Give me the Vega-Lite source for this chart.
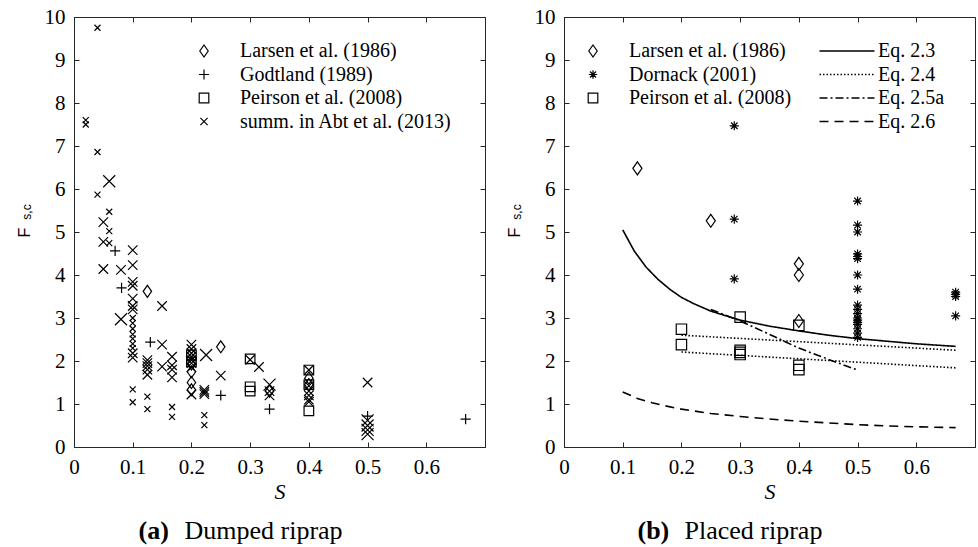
{
  "$schema": "https://vega.github.io/schema/vega-lite/v6.json",
  "background": "white",
  "padding": {"left": 15, "top": 5, "right": 2, "bottom": 2},
  "spacing": 19,
  "config": {
    "font": "Liberation Serif",
    "view": {"stroke": "#262626", "strokeWidth": 1},
    "axis": {
      "grid": false,
      "domainColor": "#262626",
      "tickColor": "#262626",
      "tickSize": -5,
      "labelColor": "#000000",
      "labelFont": "Liberation Serif",
      "labelFontSize": 21,
      "labelFlush": false,
      "labelOverlap": false,
      "titleColor": "#000000",
      "titleFontWeight": "normal"
    },
    "legend": {
      "labelFont": "Liberation Serif",
      "labelFontSize": 20,
      "labelColor": "#000000",
      "labelLimit": 400,
      "symbolStrokeColor": "#000000",
      "symbolStrokeWidth": 1.2,
      "padding": 0,
      "rowPadding": 3.5,
      "labelOffset": 26,
      "symbolSize": 144
    },
    "title": {"font": "Liberation Serif", "color": "#000000", "subtitleColor": "#000000"}
  },
  "datasets": {
    "dumped": [
      {"S": 0.125, "F": 3.62, "src": "Larsen et al. (1986)"},
      {"S": 0.25, "F": 2.33, "src": "Larsen et al. (1986)"},
      {"S": 0.2, "F": 1.93, "src": "Larsen et al. (1986)"},
      {"S": 0.2, "F": 1.75, "src": "Larsen et al. (1986)"},
      {"S": 0.2, "F": 1.5, "src": "Larsen et al. (1986)"},
      {"S": 0.2, "F": 1.33, "src": "Larsen et al. (1986)"},
      {"S": 0.333, "F": 1.3, "src": "Larsen et al. (1986)"},
      {"S": 0.4, "F": 1.6, "src": "Larsen et al. (1986)"},
      {"S": 0.4, "F": 1.45, "src": "Larsen et al. (1986)"},
      {"S": 0.07, "F": 4.56, "src": "Godtland (1989)"},
      {"S": 0.081, "F": 3.7, "src": "Godtland (1989)"},
      {"S": 0.13, "F": 2.44, "src": "Godtland (1989)"},
      {"S": 0.25, "F": 1.2, "src": "Godtland (1989)"},
      {"S": 0.333, "F": 0.88, "src": "Godtland (1989)"},
      {"S": 0.5, "F": 0.72, "src": "Godtland (1989)"},
      {"S": 0.667, "F": 0.65, "src": "Godtland (1989)"},
      {"S": 0.2, "F": 2.14, "src": "Peirson et al. (2008)"},
      {"S": 0.2, "F": 1.98, "src": "Peirson et al. (2008)"},
      {"S": 0.3, "F": 2.05, "src": "Peirson et al. (2008)"},
      {"S": 0.3, "F": 1.4, "src": "Peirson et al. (2008)"},
      {"S": 0.3, "F": 1.3, "src": "Peirson et al. (2008)"},
      {"S": 0.4, "F": 1.79, "src": "Peirson et al. (2008)"},
      {"S": 0.4, "F": 1.45, "src": "Peirson et al. (2008)"},
      {"S": 0.4, "F": 0.84, "src": "Peirson et al. (2008)"},
      {"S": 0.04, "F": 9.75, "src": "summ. in Abt et al. (2013)", "scale_class": "small"},
      {"S": 0.02, "F": 7.6, "src": "summ. in Abt et al. (2013)", "scale_class": "small"},
      {"S": 0.02, "F": 7.5, "src": "summ. in Abt et al. (2013)", "scale_class": "small"},
      {"S": 0.04, "F": 6.86, "src": "summ. in Abt et al. (2013)", "scale_class": "small"},
      {"S": 0.06, "F": 6.18, "src": "summ. in Abt et al. (2013)", "scale_class": "large"},
      {"S": 0.04, "F": 5.87, "src": "summ. in Abt et al. (2013)", "scale_class": "small"},
      {"S": 0.05, "F": 5.23, "src": "summ. in Abt et al. (2013)", "scale_class": "medium"},
      {"S": 0.06, "F": 5.47, "src": "summ. in Abt et al. (2013)", "scale_class": "small"},
      {"S": 0.06, "F": 5.02, "src": "summ. in Abt et al. (2013)", "scale_class": "small"},
      {"S": 0.05, "F": 4.77, "src": "summ. in Abt et al. (2013)", "scale_class": "medium"},
      {"S": 0.06, "F": 4.74, "src": "summ. in Abt et al. (2013)", "scale_class": "small"},
      {"S": 0.05, "F": 4.14, "src": "summ. in Abt et al. (2013)", "scale_class": "medium"},
      {"S": 0.08, "F": 4.12, "src": "summ. in Abt et al. (2013)", "scale_class": "medium"},
      {"S": 0.08, "F": 2.97, "src": "summ. in Abt et al. (2013)", "scale_class": "large"},
      {"S": 0.1, "F": 4.58, "src": "summ. in Abt et al. (2013)", "scale_class": "medium"},
      {"S": 0.1, "F": 4.23, "src": "summ. in Abt et al. (2013)", "scale_class": "medium"},
      {"S": 0.1, "F": 3.84, "src": "summ. in Abt et al. (2013)", "scale_class": "medium"},
      {"S": 0.1, "F": 3.75, "src": "summ. in Abt et al. (2013)", "scale_class": "medium"},
      {"S": 0.1, "F": 3.45, "src": "summ. in Abt et al. (2013)", "scale_class": "medium"},
      {"S": 0.1, "F": 3.28, "src": "summ. in Abt et al. (2013)", "scale_class": "medium"},
      {"S": 0.1, "F": 3.2, "src": "summ. in Abt et al. (2013)", "scale_class": "medium"},
      {"S": 0.1, "F": 3.0, "src": "summ. in Abt et al. (2013)", "scale_class": "small"},
      {"S": 0.1, "F": 2.88, "src": "summ. in Abt et al. (2013)", "scale_class": "small"},
      {"S": 0.1, "F": 2.75, "src": "summ. in Abt et al. (2013)", "scale_class": "small"},
      {"S": 0.1, "F": 2.62, "src": "summ. in Abt et al. (2013)", "scale_class": "small"},
      {"S": 0.1, "F": 2.52, "src": "summ. in Abt et al. (2013)", "scale_class": "small"},
      {"S": 0.1, "F": 2.4, "src": "summ. in Abt et al. (2013)", "scale_class": "small"},
      {"S": 0.1, "F": 2.3, "src": "summ. in Abt et al. (2013)", "scale_class": "small"},
      {"S": 0.1, "F": 2.18, "src": "summ. in Abt et al. (2013)", "scale_class": "medium"},
      {"S": 0.1, "F": 2.08, "src": "summ. in Abt et al. (2013)", "scale_class": "medium"},
      {"S": 0.1, "F": 1.34, "src": "summ. in Abt et al. (2013)", "scale_class": "small"},
      {"S": 0.1, "F": 1.04, "src": "summ. in Abt et al. (2013)", "scale_class": "small"},
      {"S": 0.125, "F": 2.02, "src": "summ. in Abt et al. (2013)", "scale_class": "medium"},
      {"S": 0.125, "F": 1.95, "src": "summ. in Abt et al. (2013)", "scale_class": "medium"},
      {"S": 0.125, "F": 1.88, "src": "summ. in Abt et al. (2013)", "scale_class": "medium"},
      {"S": 0.125, "F": 1.8, "src": "summ. in Abt et al. (2013)", "scale_class": "medium"},
      {"S": 0.125, "F": 1.68, "src": "summ. in Abt et al. (2013)", "scale_class": "medium"},
      {"S": 0.125, "F": 1.17, "src": "summ. in Abt et al. (2013)", "scale_class": "small"},
      {"S": 0.125, "F": 0.88, "src": "summ. in Abt et al. (2013)", "scale_class": "small"},
      {"S": 0.15, "F": 3.28, "src": "summ. in Abt et al. (2013)", "scale_class": "medium"},
      {"S": 0.15, "F": 2.38, "src": "summ. in Abt et al. (2013)", "scale_class": "medium"},
      {"S": 0.15, "F": 1.87, "src": "summ. in Abt et al. (2013)", "scale_class": "medium"},
      {"S": 0.167, "F": 2.1, "src": "summ. in Abt et al. (2013)", "scale_class": "medium"},
      {"S": 0.167, "F": 1.9, "src": "summ. in Abt et al. (2013)", "scale_class": "medium"},
      {"S": 0.167, "F": 1.8, "src": "summ. in Abt et al. (2013)", "scale_class": "medium"},
      {"S": 0.167, "F": 1.62, "src": "summ. in Abt et al. (2013)", "scale_class": "medium"},
      {"S": 0.167, "F": 0.93, "src": "summ. in Abt et al. (2013)", "scale_class": "small"},
      {"S": 0.167, "F": 0.7, "src": "summ. in Abt et al. (2013)", "scale_class": "small"},
      {"S": 0.2, "F": 2.38, "src": "summ. in Abt et al. (2013)", "scale_class": "medium"},
      {"S": 0.2, "F": 2.28, "src": "summ. in Abt et al. (2013)", "scale_class": "medium"},
      {"S": 0.2, "F": 2.18, "src": "summ. in Abt et al. (2013)", "scale_class": "medium"},
      {"S": 0.2, "F": 2.1, "src": "summ. in Abt et al. (2013)", "scale_class": "medium"},
      {"S": 0.2, "F": 2.02, "src": "summ. in Abt et al. (2013)", "scale_class": "medium"},
      {"S": 0.2, "F": 1.95, "src": "summ. in Abt et al. (2013)", "scale_class": "medium"},
      {"S": 0.2, "F": 1.85, "src": "summ. in Abt et al. (2013)", "scale_class": "medium"},
      {"S": 0.2, "F": 1.22, "src": "summ. in Abt et al. (2013)", "scale_class": "medium"},
      {"S": 0.225, "F": 2.14, "src": "summ. in Abt et al. (2013)", "scale_class": "large"},
      {"S": 0.222, "F": 1.33, "src": "summ. in Abt et al. (2013)", "scale_class": "medium"},
      {"S": 0.222, "F": 1.28, "src": "summ. in Abt et al. (2013)", "scale_class": "medium"},
      {"S": 0.222, "F": 1.23, "src": "summ. in Abt et al. (2013)", "scale_class": "medium"},
      {"S": 0.222, "F": 0.74, "src": "summ. in Abt et al. (2013)", "scale_class": "small"},
      {"S": 0.222, "F": 0.51, "src": "summ. in Abt et al. (2013)", "scale_class": "small"},
      {"S": 0.25, "F": 1.66, "src": "summ. in Abt et al. (2013)", "scale_class": "medium"},
      {"S": 0.3, "F": 2.03, "src": "summ. in Abt et al. (2013)", "scale_class": "medium"},
      {"S": 0.315, "F": 1.86, "src": "summ. in Abt et al. (2013)", "scale_class": "medium"},
      {"S": 0.333, "F": 1.45, "src": "summ. in Abt et al. (2013)", "scale_class": "large"},
      {"S": 0.333, "F": 1.3, "src": "summ. in Abt et al. (2013)", "scale_class": "medium"},
      {"S": 0.333, "F": 1.2, "src": "summ. in Abt et al. (2013)", "scale_class": "medium"},
      {"S": 0.4, "F": 1.79, "src": "summ. in Abt et al. (2013)", "scale_class": "medium"},
      {"S": 0.4, "F": 1.42, "src": "summ. in Abt et al. (2013)", "scale_class": "medium"},
      {"S": 0.4, "F": 1.3, "src": "summ. in Abt et al. (2013)", "scale_class": "medium"},
      {"S": 0.4, "F": 1.2, "src": "summ. in Abt et al. (2013)", "scale_class": "medium"},
      {"S": 0.4, "F": 1.1, "src": "summ. in Abt et al. (2013)", "scale_class": "medium"},
      {"S": 0.4, "F": 1.05, "src": "summ. in Abt et al. (2013)", "scale_class": "medium"},
      {"S": 0.5, "F": 1.5, "src": "summ. in Abt et al. (2013)", "scale_class": "medium"},
      {"S": 0.5, "F": 0.62, "src": "summ. in Abt et al. (2013)", "scale_class": "large"},
      {"S": 0.5, "F": 0.5, "src": "summ. in Abt et al. (2013)", "scale_class": "large"},
      {"S": 0.5, "F": 0.4, "src": "summ. in Abt et al. (2013)", "scale_class": "large"},
      {"S": 0.5, "F": 0.3, "src": "summ. in Abt et al. (2013)", "scale_class": "large"}
    ],
    "placed": [
      {"S": 0.125, "F": 6.48, "src": "Larsen et al. (1986)"},
      {"S": 0.25, "F": 5.26, "src": "Larsen et al. (1986)"},
      {"S": 0.4, "F": 4.26, "src": "Larsen et al. (1986)"},
      {"S": 0.4, "F": 4.0, "src": "Larsen et al. (1986)"},
      {"S": 0.4, "F": 2.93, "src": "Larsen et al. (1986)"},
      {"S": 0.29, "F": 7.47, "src": "Dornack (2001)"},
      {"S": 0.29, "F": 5.3, "src": "Dornack (2001)"},
      {"S": 0.29, "F": 3.91, "src": "Dornack (2001)"},
      {"S": 0.5, "F": 5.72, "src": "Dornack (2001)"},
      {"S": 0.5, "F": 5.16, "src": "Dornack (2001)"},
      {"S": 0.5, "F": 5.0, "src": "Dornack (2001)"},
      {"S": 0.5, "F": 4.49, "src": "Dornack (2001)"},
      {"S": 0.5, "F": 4.43, "src": "Dornack (2001)"},
      {"S": 0.5, "F": 4.38, "src": "Dornack (2001)"},
      {"S": 0.5, "F": 4.0, "src": "Dornack (2001)"},
      {"S": 0.5, "F": 3.67, "src": "Dornack (2001)"},
      {"S": 0.5, "F": 3.3, "src": "Dornack (2001)"},
      {"S": 0.5, "F": 3.2, "src": "Dornack (2001)"},
      {"S": 0.5, "F": 3.1, "src": "Dornack (2001)"},
      {"S": 0.5, "F": 3.0, "src": "Dornack (2001)"},
      {"S": 0.5, "F": 2.95, "src": "Dornack (2001)"},
      {"S": 0.5, "F": 2.9, "src": "Dornack (2001)"},
      {"S": 0.5, "F": 2.85, "src": "Dornack (2001)"},
      {"S": 0.5, "F": 2.75, "src": "Dornack (2001)"},
      {"S": 0.5, "F": 2.65, "src": "Dornack (2001)"},
      {"S": 0.5, "F": 2.55, "src": "Dornack (2001)"},
      {"S": 0.667, "F": 3.6, "src": "Dornack (2001)"},
      {"S": 0.667, "F": 3.55, "src": "Dornack (2001)"},
      {"S": 0.667, "F": 3.5, "src": "Dornack (2001)"},
      {"S": 0.667, "F": 3.05, "src": "Dornack (2001)"},
      {"S": 0.2, "F": 2.74, "src": "Peirson et al. (2008)"},
      {"S": 0.2, "F": 2.38, "src": "Peirson et al. (2008)"},
      {"S": 0.3, "F": 3.02, "src": "Peirson et al. (2008)"},
      {"S": 0.3, "F": 2.25, "src": "Peirson et al. (2008)"},
      {"S": 0.3, "F": 2.2, "src": "Peirson et al. (2008)"},
      {"S": 0.3, "F": 2.15, "src": "Peirson et al. (2008)"},
      {"S": 0.4, "F": 2.83, "src": "Peirson et al. (2008)"},
      {"S": 0.4, "F": 1.9, "src": "Peirson et al. (2008)"},
      {"S": 0.4, "F": 1.8, "src": "Peirson et al. (2008)"}
    ],
    "equations": [
      {"S": 0.1, "F": 5.05, "eq": "Eq. 2.3", "seg": "a"},
      {"S": 0.12, "F": 4.55, "eq": "Eq. 2.3", "seg": "a"},
      {"S": 0.14, "F": 4.18, "eq": "Eq. 2.3", "seg": "a"},
      {"S": 0.16, "F": 3.9, "eq": "Eq. 2.3", "seg": "a"},
      {"S": 0.18, "F": 3.67, "eq": "Eq. 2.3", "seg": "a"},
      {"S": 0.2, "F": 3.48, "eq": "Eq. 2.3", "seg": "a"},
      {"S": 0.22, "F": 3.34, "eq": "Eq. 2.3", "seg": "a"},
      {"S": 0.25, "F": 3.16, "eq": "Eq. 2.3", "seg": "a"},
      {"S": 0.3, "F": 2.95, "eq": "Eq. 2.3", "seg": "a"},
      {"S": 0.35, "F": 2.81, "eq": "Eq. 2.3", "seg": "a"},
      {"S": 0.4, "F": 2.7, "eq": "Eq. 2.3", "seg": "a"},
      {"S": 0.45, "F": 2.6, "eq": "Eq. 2.3", "seg": "a"},
      {"S": 0.5, "F": 2.52, "eq": "Eq. 2.3", "seg": "a"},
      {"S": 0.55, "F": 2.46, "eq": "Eq. 2.3", "seg": "a"},
      {"S": 0.6, "F": 2.4, "eq": "Eq. 2.3", "seg": "a"},
      {"S": 0.667, "F": 2.34, "eq": "Eq. 2.3", "seg": "a"},
      {"S": 0.2, "F": 2.6, "eq": "Eq. 2.4", "seg": "upper"},
      {"S": 0.667, "F": 2.25, "eq": "Eq. 2.4", "seg": "upper"},
      {"S": 0.2, "F": 2.21, "eq": "Eq. 2.4", "seg": "lower"},
      {"S": 0.667, "F": 1.84, "eq": "Eq. 2.4", "seg": "lower"},
      {"S": 0.25, "F": 3.2, "eq": "Eq. 2.5a", "seg": "a"},
      {"S": 0.3, "F": 2.93, "eq": "Eq. 2.5a", "seg": "a"},
      {"S": 0.35, "F": 2.62, "eq": "Eq. 2.5a", "seg": "a"},
      {"S": 0.4, "F": 2.3, "eq": "Eq. 2.5a", "seg": "a"},
      {"S": 0.45, "F": 2.04, "eq": "Eq. 2.5a", "seg": "a"},
      {"S": 0.5, "F": 1.79, "eq": "Eq. 2.5a", "seg": "a"},
      {"S": 0.1, "F": 1.28, "eq": "Eq. 2.6", "seg": "a"},
      {"S": 0.125, "F": 1.13, "eq": "Eq. 2.6", "seg": "a"},
      {"S": 0.15, "F": 1.03, "eq": "Eq. 2.6", "seg": "a"},
      {"S": 0.175, "F": 0.95, "eq": "Eq. 2.6", "seg": "a"},
      {"S": 0.2, "F": 0.88, "eq": "Eq. 2.6", "seg": "a"},
      {"S": 0.25, "F": 0.78, "eq": "Eq. 2.6", "seg": "a"},
      {"S": 0.3, "F": 0.71, "eq": "Eq. 2.6", "seg": "a"},
      {"S": 0.35, "F": 0.65, "eq": "Eq. 2.6", "seg": "a"},
      {"S": 0.4, "F": 0.6, "eq": "Eq. 2.6", "seg": "a"},
      {"S": 0.45, "F": 0.56, "eq": "Eq. 2.6", "seg": "a"},
      {"S": 0.5, "F": 0.52, "eq": "Eq. 2.6", "seg": "a"},
      {"S": 0.55, "F": 0.49, "eq": "Eq. 2.6", "seg": "a"},
      {"S": 0.6, "F": 0.47, "eq": "Eq. 2.6", "seg": "a"},
      {"S": 0.667, "F": 0.45, "eq": "Eq. 2.6", "seg": "a"}
    ]
  },
  "hconcat": [
    {
      "title": {"text": "(a)", "orient": "bottom", "anchor": "start", "frame": "bounds", "align": "left", "dx": 123, "offset": -26, "fontSize": 26, "fontWeight": "bold", "color": "#000000"},
      "resolve": {"scale": {"shape": "independent", "size": "independent"}, "legend": {"shape": "independent", "size": "independent"}},
      "vconcat": [
        {
          "title": {"text": "Dumped riprap", "orient": "bottom", "anchor": "start", "frame": "bounds", "align": "left", "dx": 169, "offset": 15, "fontSize": 26, "fontWeight": "normal", "color": "#000000"},
          "resolve": {"scale": {"shape": "independent", "size": "independent"}, "legend": {"shape": "independent", "size": "independent"}},
          "vconcat": [
            {
              "width": 411,
              "height": 430,
              "title": {"text": "s,c", "orient": "left", "anchor": "middle", "offset": -18, "dx": 20, "font": "Liberation Sans", "fontSize": 12, "fontWeight": "normal", "color": "#000000"},
              "data": {"name": "dumped"},
              "resolve": {"axis": {"x": "independent", "y": "independent"}},
              "layer": [
                {
                  "transform": [{"filter": "datum.src !== 'summ. in Abt et al. (2013)'"}],
                  "mark": {"type": "point", "filled": false, "color": "#000000", "strokeWidth": 1.2, "opacity": 1, "size": 144},
                  "encoding": {
                    "x": {"field": "S", "type": "quantitative", "scale": {"domain": [0, 0.7], "nice": false},
                          "axis": {"values": [0, 0.1, 0.2, 0.3, 0.4, 0.5, 0.6], "format": "~g", "labelPadding": 14, "title": "S", "titleColor": "#000000", "titleFont": "Liberation Serif", "titleFontStyle": "italic", "titleFontSize": 22, "titlePadding": 4}},
                    "y": {"field": "F", "type": "quantitative", "scale": {"domain": [0, 10], "nice": false},
                          "axis": {"values": [0, 1, 2, 3, 4, 5, 6, 7, 8, 9, 10], "format": "d", "labelPadding": 14, "title": "F", "titleColor": "#000000", "titleFont": "Liberation Sans", "titleFontSize": 16, "titlePadding": 12}},
                    "shape": {"field": "src", "type": "nominal",
                              "scale": {"domain": ["Larsen et al. (1986)", "Godtland (1989)", "Peirson et al. (2008)", "summ. in Abt et al. (2013)"],
                                        "range": ["M0,-1L0.7,0L0,1L-0.7,0Z", "M-0.85,0L0.85,0M0,-0.85L0,0.85", "M-0.8,-0.8L0.8,-0.8L0.8,0.8L-0.8,0.8Z", "M-0.6,-0.6L0.6,0.6M-0.6,0.6L0.6,-0.6"]},
                              "legend": {"title": null, "orient": "none", "legendX": 120, "legendY": 24}}
                  }
                },
                {
                  "transform": [{"filter": "datum.src === 'summ. in Abt et al. (2013)'"}],
                  "mark": {"type": "point", "filled": false, "color": "#000000", "strokeWidth": 1.2, "opacity": 1},
                  "encoding": {
                    "x": {"field": "S", "type": "quantitative",
                          "axis": {"orient": "top", "values": [0, 0.1, 0.2, 0.3, 0.4, 0.5, 0.6], "labels": false, "domain": false, "title": null}},
                    "y": {"field": "F", "type": "quantitative",
                          "axis": {"orient": "right", "values": [0, 1, 2, 3, 4, 5, 6, 7, 8, 9, 10], "labels": false, "domain": false, "title": null}},
                    "shape": {"field": "src", "type": "nominal",
                              "legend": {"title": null, "orient": "none", "legendX": 120, "legendY": 24}},
                    "size": {"field": "scale_class", "type": "nominal",
                             "scale": {"domain": ["small", "medium", "large"], "range": [100, 400, 1100]},
                             "legend": null}
                  }
                }
              ]
            }
          ]
        }
      ]
    },
    {
      "title": {"text": "(b)", "orient": "bottom", "anchor": "start", "frame": "bounds", "align": "left", "dx": 132, "offset": -26, "fontSize": 26, "fontWeight": "bold", "color": "#000000"},
      "resolve": {"scale": {"shape": "independent", "strokeDash": "independent"}, "legend": {"shape": "independent", "strokeDash": "independent"}},
      "vconcat": [
        {
          "title": {"text": "Placed riprap", "orient": "bottom", "anchor": "start", "frame": "bounds", "align": "left", "dx": 179, "offset": 15, "fontSize": 26, "fontWeight": "normal", "color": "#000000"},
          "resolve": {"scale": {"shape": "independent", "strokeDash": "independent"}, "legend": {"shape": "independent", "strokeDash": "independent"}},
          "vconcat": [
            {
              "width": 411,
              "height": 430,
              "title": {"text": "s,c", "orient": "left", "anchor": "middle", "offset": -18, "dx": 20, "font": "Liberation Sans", "fontSize": 12, "fontWeight": "normal", "color": "#000000"},
              "resolve": {"axis": {"x": "independent", "y": "independent"}},
              "layer": [
                {
                  "data": {"name": "equations"},
                  "mark": {"type": "line", "color": "#000000", "strokeWidth": 1.6},
                  "encoding": {
                    "x": {"field": "S", "type": "quantitative", "scale": {"domain": [0, 0.7], "nice": false},
                          "axis": {"values": [0, 0.1, 0.2, 0.3, 0.4, 0.5, 0.6], "format": "~g", "labelPadding": 14, "title": "S", "titleColor": "#000000", "titleFont": "Liberation Serif", "titleFontStyle": "italic", "titleFontSize": 22, "titlePadding": 4}},
                    "y": {"field": "F", "type": "quantitative", "scale": {"domain": [0, 10], "nice": false},
                          "axis": {"values": [0, 1, 2, 3, 4, 5, 6, 7, 8, 9, 10], "format": "d", "labelPadding": 14, "title": "F", "titleColor": "#000000", "titleFont": "Liberation Sans", "titleFontSize": 16, "titlePadding": 12}},
                    "strokeDash": {"field": "eq", "type": "nominal",
                                   "scale": {"domain": ["Eq. 2.3", "Eq. 2.4", "Eq. 2.5a", "Eq. 2.6"], "range": [[1, 0], [1.5, 2], [8, 3, 2, 3], [9, 6]]},
                                   "legend": {"title": null, "orient": "none", "legendX": 273, "legendY": 24, "symbolType": "M-5,0L5,0", "symbolSize": 121, "symbolStrokeWidth": 1.5, "labelOffset": 21}},
                    "detail": {"field": "seg", "type": "nominal"}
                  }
                },
                {
                  "data": {"name": "placed"},
                  "mark": {"type": "point", "filled": false, "color": "#000000", "strokeWidth": 1.2, "opacity": 1, "size": 169},
                  "encoding": {
                    "x": {"field": "S", "type": "quantitative",
                          "axis": {"orient": "top", "values": [0, 0.1, 0.2, 0.3, 0.4, 0.5, 0.6], "labels": false, "domain": false, "title": null}},
                    "y": {"field": "F", "type": "quantitative",
                          "axis": {"orient": "right", "values": [0, 1, 2, 3, 4, 5, 6, 7, 8, 9, 10], "labels": false, "domain": false, "title": null}},
                    "shape": {"field": "src", "type": "nominal",
                              "scale": {"domain": ["Larsen et al. (1986)", "Dornack (2001)", "Peirson et al. (2008)"],
                                        "range": ["M0,-1L0.7,0L0,1L-0.7,0Z", "M-0.7,0L0.7,0M0,-0.7L0,0.7M-0.5,-0.5L0.5,0.5M-0.5,0.5L0.5,-0.5", "M-0.8,-0.8L0.8,-0.8L0.8,0.8L-0.8,0.8Z"]},
                              "legend": {"title": null, "orient": "none", "legendX": 19, "legendY": 24}}
                  }
                }
              ]
            }
          ]
        }
      ]
    }
  ],
  "resolve": {"scale": {"shape": "independent", "size": "independent", "strokeDash": "independent"}, "legend": {"shape": "independent", "size": "independent", "strokeDash": "independent"}}
}
